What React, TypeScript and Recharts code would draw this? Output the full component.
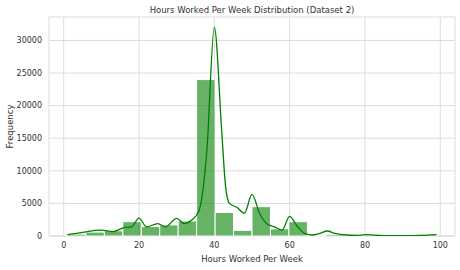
import React from 'react'
import { ComposedChart, Line, XAxis, YAxis, CartesianGrid, ReferenceArea, Label } from 'recharts'

// histogram: 20 bins over 1..99
const binEdges = [1, 5.9, 10.8, 15.7, 20.6, 25.5, 30.4, 35.3, 40.2, 45.1, 50, 54.9, 59.8, 64.7, 69.6, 74.5, 79.4, 84.3, 89.2, 94.1, 99]
const binCounts = [300, 600, 800, 2200, 1450, 1700, 2300, 24000, 3600, 870, 4500, 1100, 2200, 100, 250, 100, 150, 50, 50, 200]

// kde curve
const kdeHours = [1, 5, 10, 13, 16, 18, 20, 22, 25, 27, 30, 32, 34, 36, 38, 40, 42, 43, 44, 46, 48, 50, 52, 54, 56, 58, 60, 62, 64, 66, 68, 70, 72, 75, 78, 80, 85, 90, 95, 99]
const kdeValues = [200, 560, 900, 660, 1300, 1400, 2750, 1400, 1900, 1400, 2700, 1900, 2450, 4000, 13000, 32000, 15700, 7500, 5000, 4400, 3500, 6400, 3500, 1850, 1400, 900, 3000, 1500, 400, 150, 400, 770, 400, 150, 100, 200, 50, 50, 100, 200]

const xTicks = [0, 20, 40, 60, 80, 100]
const yTicks = [0, 5000, 10000, 15000, 20000, 25000, 30000]

const X_MIN = -3.9
const X_MAX = 103.9
const Y_MAX = 33600

const font = 'DejaVu Sans, sans-serif'
const textColor = '#333333'

export default function App() {
  const data = kdeHours.map((x, i) => ({ x, kde: kdeValues[i] }))

  return (
    <div style={{ position: 'absolute', left: 0, top: 0, background: '#fff' }}>
      <ComposedChart width={460} height={270} data={data} margin={{ top: 17, right: 5, left: 0, bottom: 0 }}>
        <text x={252} y={13} textAnchor="middle" fontFamily={font} fontSize={8.5} fill={textColor}>
          Hours Worked Per Week Distribution (Dataset 2)
        </text>
        <CartesianGrid stroke="#d4d4d4" strokeWidth={0.8} horizontalValues={yTicks} verticalValues={xTicks} />
        <XAxis
          type="number"
          dataKey="x"
          domain={[X_MIN, X_MAX]}
          ticks={xTicks}
          allowDataOverflow
          axisLine={false}
          tickLine={false}
          tickSize={4}
          tickMargin={2}
          height={34}
          tick={{ fontFamily: font, fontSize: 8, fill: textColor }}
        >
          <Label value="Hours Worked Per Week" position="insideBottom" offset={8} style={{ fontFamily: font, fontSize: 8.5, fill: textColor }} />
        </XAxis>
        <YAxis
          type="number"
          domain={[0, Y_MAX]}
          ticks={yTicks}
          allowDataOverflow
          axisLine={false}
          tickLine={false}
          tickSize={4}
          tickMargin={3}
          width={49}
          tick={{ fontFamily: font, fontSize: 8, fill: textColor }}
        >
          <Label value="Frequency" angle={-90} position="insideLeft" offset={10} style={{ fontFamily: font, fontSize: 8.5, fill: textColor, textAnchor: 'middle' }} />
        </YAxis>
        <ReferenceArea x1={X_MIN} x2={X_MAX} y1={0} y2={Y_MAX} fill="none" stroke="#d4d4d4" strokeWidth={0.8} />
        {binCounts.map((c, i) => (
          <ReferenceArea
            key={i}
            x1={binEdges[i]}
            x2={binEdges[i + 1]}
            y1={0}
            y2={c}
            fill="#008000"
            fillOpacity={0.6}
            stroke="#ffffff"
            strokeOpacity={1}
            strokeWidth={1}
          />
        ))}
        <Line type="monotone" dataKey="kde" stroke="#008000" strokeWidth={1.3} dot={false} isAnimationActive={false} />
      </ComposedChart>
    </div>
  )
}
